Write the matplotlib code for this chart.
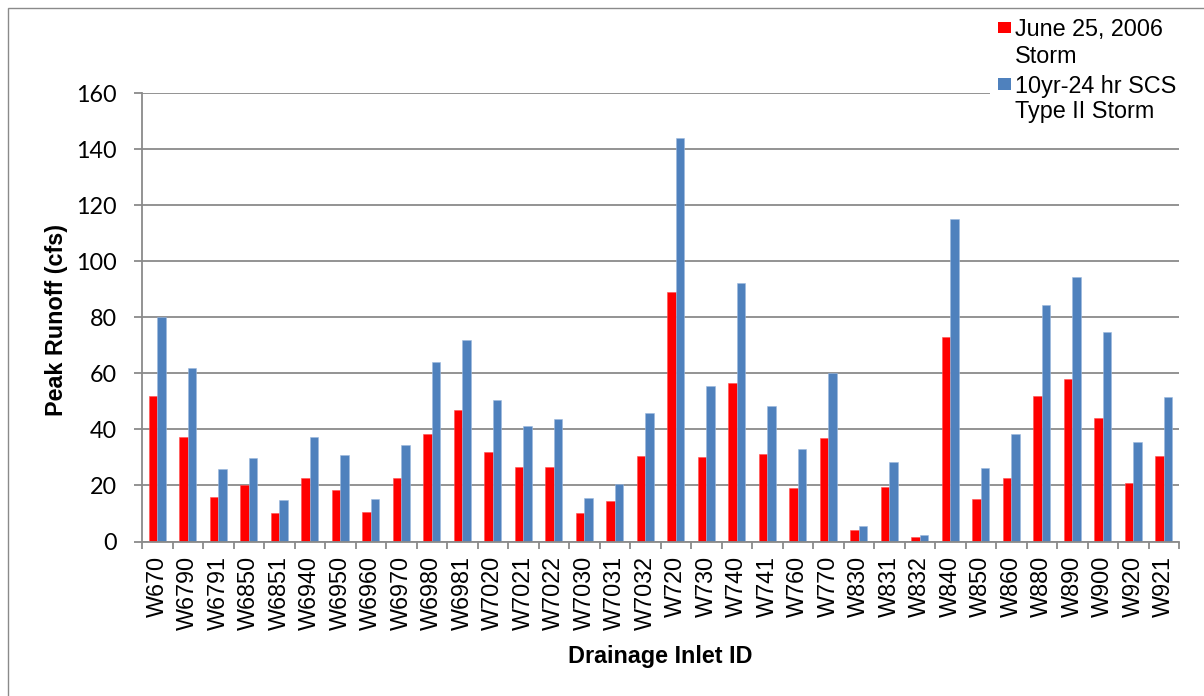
import matplotlib
matplotlib.use("Agg")
import matplotlib.pyplot as plt
from matplotlib.patches import Rectangle
import numpy as np

ids = ["W670", "W6790", "W6791", "W6850", "W6851", "W6940", "W6950", "W6960",
       "W6970", "W6980", "W6981", "W7020", "W7021", "W7022", "W7030", "W7031",
       "W7032", "W720", "W730", "W740", "W741", "W760", "W770", "W830", "W831",
       "W832", "W840", "W850", "W860", "W880", "W890", "W900", "W920", "W921"]
june_2006 = [52.1, 37.2, 15.8, 20.2, 10.2, 22.8, 18.4, 10.6, 22.7, 38.4, 47.0,
             32.0, 26.7, 26.6, 10.1, 14.5, 30.5, 89.0, 30.3, 56.7, 31.2, 19.2,
             36.9, 4.0, 19.5, 1.5, 72.9, 15.0, 22.7, 51.8, 58.0, 44.2, 20.8, 30.7]
scs_10yr = [80.1, 61.9, 26.0, 29.9, 14.8, 37.4, 31.0, 15.3, 34.4, 64.0, 72.0,
            50.5, 41.3, 43.9, 15.6, 20.7, 45.9, 144.2, 55.4, 92.2, 48.3, 33.0,
            60.1, 5.7, 28.4, 2.2, 115.3, 26.1, 38.3, 84.6, 94.4, 74.9, 35.4, 51.5]
series_names = [["June 25, 2006", "Storm"], ["10yr-24 hr SCS", "Type II Storm"]]
yticks = [0, 20, 40, 60, 80, 100, 120, 140, 160]

RED = "#FF0000"
BLUE = "#4F81BD"
GRID = "#8A8A8A"
ARIAL = "Liberation Sans"
W, H = 1204, 696

fig = plt.figure(figsize=(W / 100, H / 100), dpi=100)
ax = fig.add_axes([142 / W, 1 - 541.5 / H, (1179 - 142) / W, (541.5 - 93.3) / H])

x = np.arange(len(ids))
bw = 0.28
ax.bar(x - bw / 2, june_2006, width=bw, color=RED, edgecolor="#FF5050", linewidth=0.4, zorder=2)
ax.bar(x + bw / 2, scs_10yr, width=bw, color=BLUE, edgecolor="#9DB9DE", linewidth=0.4, zorder=2)

ax.set_xlim(-0.5, len(ids) - 0.5)
ax.set_ylim(0, 160)
ax.set_yticks(yticks)
ax.set_yticklabels([str(v) for v in yticks], fontfamily="Lato", fontsize=16.8)
ax.yaxis.grid(True, color=GRID, linewidth=1.3, zorder=0)
ax.set_axisbelow(True)

# x ticks: marks at boundaries, labels at centres
ax.set_xticks(np.arange(len(ids) + 1) - 0.5)
ax.set_xticklabels([])
ax.set_xticks(x, minor=True)
ax.set_xticklabels(ids, minor=True, rotation=90, fontfamily=ARIAL, fontsize=16.8)
ax.tick_params(axis="x", which="major", length=5, width=1.3, color=GRID, direction="out")
ax.tick_params(axis="x", which="minor", length=0, pad=10.5)
ax.tick_params(axis="y", length=6, width=1.3, color=GRID, pad=12)

for s in ["top", "right"]:
    ax.spines[s].set_visible(False)
for s in ["left", "bottom"]:
    ax.spines[s].set_color(GRID)
    ax.spines[s].set_linewidth(1.3)

def fx(px):
    return px / W

def fy(py):
    return 1 - py / H

# axis titles
fig.text(fx(63.3), fy(320), "Peak Runoff (cfs)", rotation=90, ha="center", va="baseline",
         rotation_mode="anchor", fontfamily=ARIAL, fontweight="bold", fontsize=16.8)
fig.text(fx(660), fy(663), "Drainage Inlet ID", ha="center", va="baseline",
         fontfamily=ARIAL, fontweight="bold", fontsize=16.8)

# legend (white background hides the top gridline)
fig.patches.append(Rectangle((fx(990), fy(130)), (1183 - 990) / W, (130 - 9.5) / H,
                             transform=fig.transFigure, facecolor="white", edgecolor="none", zorder=1))
fig.patches.append(Rectangle((fx(998), fy(33.3)), 13 / W, 11.6 / H, transform=fig.transFigure,
                             facecolor=RED, edgecolor="none", zorder=2))
fig.patches.append(Rectangle((fx(998), fy(90)), 13 / W, 12.3 / H, transform=fig.transFigure,
                             facecolor=BLUE, edgecolor="none", zorder=2))
baselines = [[36, 62.7], [93.3, 118.3]]
for lines, bls in zip(series_names, baselines):
    for t, b in zip(lines, bls):
        fig.text(fx(1015), fy(b), t, ha="left", va="baseline", fontfamily=ARIAL, fontsize=16.8)

# outer chart border (left and top visible)
fig.patches.append(Rectangle((fx(7.5), fy(H + 20)), (W + 40) / W, (H + 20 - 8) / H,
                             transform=fig.transFigure, facecolor="none", edgecolor=GRID,
                             linewidth=1.0, zorder=3))

fig.savefig("out.png", dpi=100)
